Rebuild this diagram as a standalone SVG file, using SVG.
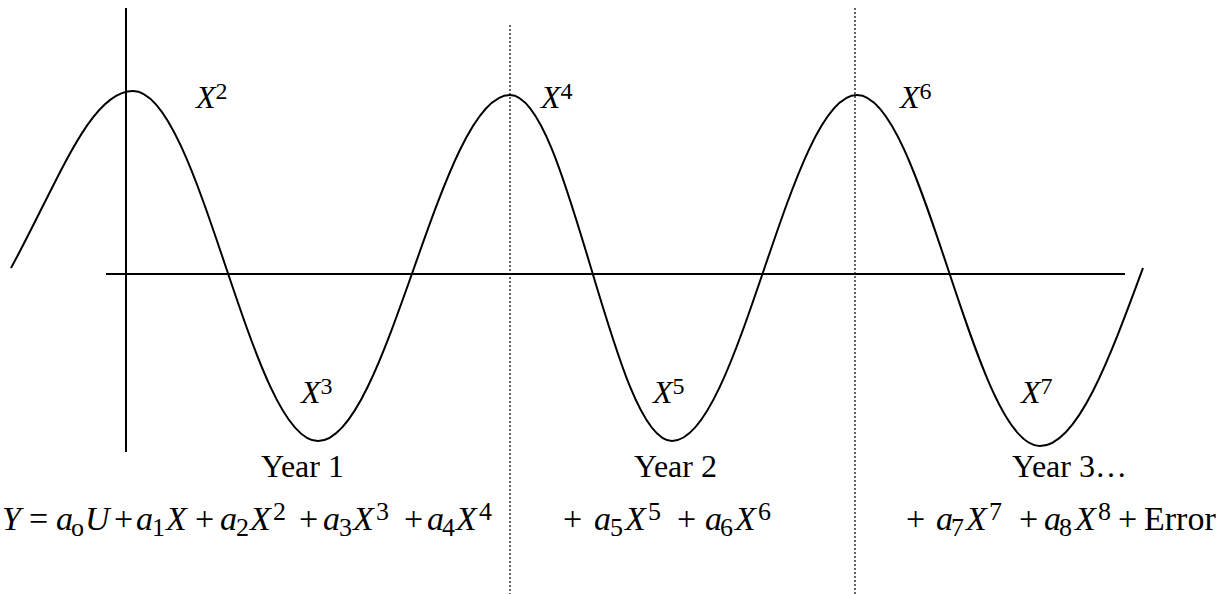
<svg xmlns="http://www.w3.org/2000/svg" width="1229" height="594" viewBox="0 0 1229 594">
<style>
text{font-family:"Liberation Serif","Times New Roman",serif;fill:#000}
.lbl{font-size:32px}
.i{font-style:italic}
.s{font-size:24px}
.eq{font-size:34px}
.es{font-size:26px}
.axis{stroke:#000;stroke-width:2;fill:none}
.dot{stroke:#000;stroke-width:1.2;stroke-dasharray:2 2;fill:none}
.curve{stroke:#000;stroke-width:2;fill:none}
</style>
<rect width="1229" height="594" fill="#fff"/>
<g id="connectors">
<line id="y-axis" class="axis" x1="126" y1="8" x2="126" y2="452"/>
<line id="x-axis" class="axis" x1="106" y1="274" x2="1125" y2="274"/>
<line id="divider1" class="dot" x1="510" y1="25" x2="510" y2="594"/>
<line id="divider2" class="dot" x1="855" y1="8" x2="855" y2="594"/>
<path id="wave" class="curve" d="M11,268 C58,182 90,91 133,91 C200.2,91 250.8,441 318,441 C387.8,441 440.2,95 510,95 C568.9,95 613.1,441 672,441 C739.2,441 789.8,95 857,95 C923.5,95 973.5,446 1040,446 C1077.3,446 1109.4,359 1143,268"/>
</g>
<g id="label-x2"><text class="lbl" x="196" y="108"><tspan class="i">X</tspan><tspan class="s" dy="-9">2</tspan></text></g>
<g id="label-x4"><text class="lbl" x="541" y="108"><tspan class="i">X</tspan><tspan class="s" dy="-9">4</tspan></text></g>
<g id="label-x6"><text class="lbl" x="900" y="108"><tspan class="i">X</tspan><tspan class="s" dy="-9">6</tspan></text></g>
<g id="label-x3"><text class="lbl" x="301" y="403"><tspan class="i">X</tspan><tspan class="s" dy="-9">3</tspan></text></g>
<g id="label-x5"><text class="lbl" x="653" y="403"><tspan class="i">X</tspan><tspan class="s" dy="-9">5</tspan></text></g>
<g id="label-x7"><text class="lbl" x="1021" y="403"><tspan class="i">X</tspan><tspan class="s" dy="-9">7</tspan></text></g>
<g id="year1"><text class="lbl" x="261" y="477">Year 1</text></g>
<g id="year2"><text class="lbl" x="634" y="477">Year 2</text></g>
<g id="year3"><text class="lbl" x="1012" y="477">Year 3…</text></g>
<g id="equation">
<text class="eq" y="530">
<tspan class="i" x="2">Y</tspan><tspan x="29">=</tspan>
<tspan class="i" x="56">a</tspan><tspan class="es" x="71" dy="6">o</tspan><tspan class="i" x="85" dy="-6">U</tspan>
<tspan x="114">+</tspan>
<tspan class="i" x="136">a</tspan><tspan class="es" x="152" dy="6">1</tspan><tspan class="i" x="166" dy="-6">X</tspan>
<tspan x="195">+</tspan>
<tspan class="i" x="220">a</tspan><tspan class="es" x="236" dy="6">2</tspan><tspan class="i" x="250" dy="-6">X</tspan><tspan class="es" x="273" dy="-10">2</tspan>
<tspan x="299" dy="10">+</tspan>
<tspan class="i" x="323">a</tspan><tspan class="es" x="339" dy="6">3</tspan><tspan class="i" x="353" dy="-6">X</tspan><tspan class="es" x="376" dy="-10">3</tspan>
<tspan x="404" dy="10">+</tspan>
<tspan class="i" x="427">a</tspan><tspan class="es" x="442" dy="6">4</tspan><tspan class="i" x="456" dy="-6">X</tspan><tspan class="es" x="479" dy="-10">4</tspan>
<tspan x="563" dy="10">+</tspan>
<tspan class="i" x="594">a</tspan><tspan class="es" x="610" dy="6">5</tspan><tspan class="i" x="625" dy="-6">X</tspan><tspan class="es" x="648" dy="-10">5</tspan>
<tspan x="677" dy="10">+</tspan>
<tspan class="i" x="705">a</tspan><tspan class="es" x="720" dy="6">6</tspan><tspan class="i" x="735" dy="-6">X</tspan><tspan class="es" x="758" dy="-10">6</tspan>
<tspan x="906" dy="10">+</tspan>
<tspan class="i" x="936">a</tspan><tspan class="es" x="951" dy="6">7</tspan><tspan class="i" x="966" dy="-6">X</tspan><tspan class="es" x="989" dy="-10">7</tspan>
<tspan x="1019" dy="10">+</tspan>
<tspan class="i" x="1044">a</tspan><tspan class="es" x="1059" dy="6">8</tspan><tspan class="i" x="1075" dy="-6">X</tspan><tspan class="es" x="1098" dy="-10">8</tspan>
<tspan x="1118" dy="10">+</tspan>
<tspan x="1144">Error</tspan>
</text>
</g>
</svg>
